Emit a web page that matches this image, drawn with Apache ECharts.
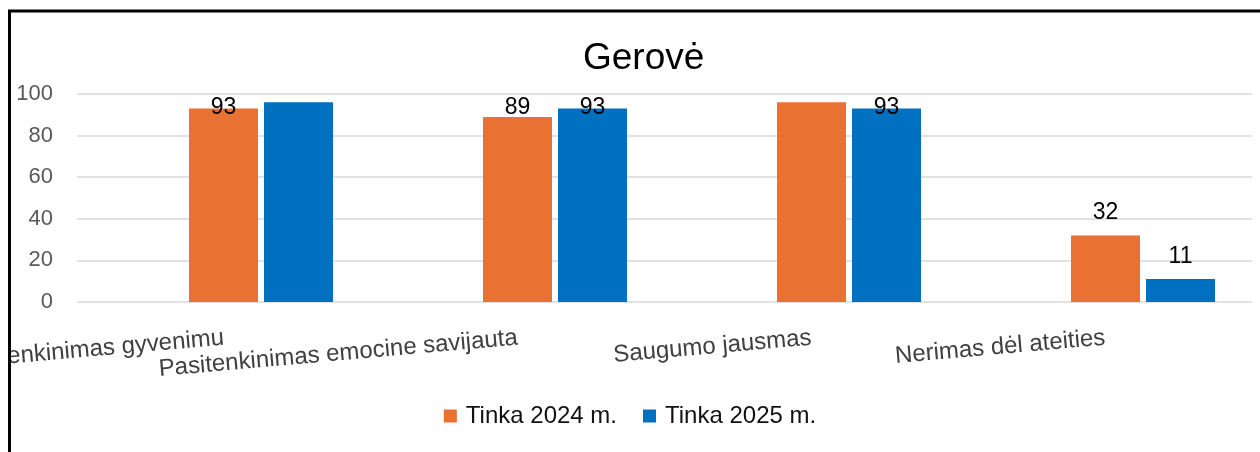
<!DOCTYPE html>
<html>
<head>
<meta charset="utf-8">
<script src="https://cdn.jsdelivr.net/npm/echarts@6/dist/echarts.min.js"></script>
<style>
html,body{margin:0;padding:0;background:#fff;}
#chart{width:1260px;height:452px;}
</style>
</head>
<body>
<div id="chart"></div>
<script>
const categories = ['Pasitenkinimas gyvenimu', 'Pasitenkinimas emocine savijauta', 'Saugumo jausmas', 'Nerimas dėl ateities'];
const seriesNames = ['Tinka 2024 m.', 'Tinka 2025 m.'];
const values2024 = [93, 89, 96, 32];
const values2025 = [96, 93, 93, 11];
const showLabel2024 = [true, true, false, true];
const showLabel2025 = [false, true, true, true];
const yMin = 0, yMax = 100, yStep = 20;

const FONT = '"Liberation Sans", Arial, sans-serif';
const gridTop = 94, gridBottom = 150;

function items(vals, flags) {
  return vals.map((v, i) => ({ value: v, label: { show: flags[i] } }));
}

const chart = echarts.init(document.getElementById('chart'), null, { renderer: 'canvas' });

const barCommon = {
  type: 'bar',
  xAxisIndex: 1,
  yAxisIndex: 1,
  barWidth: 69,
  barGap: '8.7%',
  label: {
    position: 'top',
    distance: 11,
    fontSize: 23,
    fontFamily: FONT,
    color: '#000'
  },
  labelLayout: function (p) {
    const top = Math.max(p.labelRect.y, gridTop + 2);
    return { x: p.labelRect.x + p.labelRect.width / 2, y: top, align: 'center', verticalAlign: 'top' };
  }
};

chart.setOption({
  animation: false,
  backgroundColor: '#fff',
  textStyle: { fontFamily: FONT },
  title: {
    text: 'Gerovė',
    left: 578,
    top: 35,
    textStyle: { fontSize: 37, fontWeight: 'normal', color: '#000', fontFamily: FONT }
  },
  legend: {
    data: seriesNames,
    left: 'center',
    top: 399,
    icon: 'rect',
    itemWidth: 13,
    itemHeight: 13,
    itemGap: 26,
    textStyle: { fontSize: 24, color: '#111', fontFamily: FONT, padding: [0, 0, 0, 4] }
  },
  grid: [
    { left: 77, right: 8, top: gridTop, bottom: gridBottom, containLabel: false, outerBoundsMode: 'none' },
    { left: 114, width: 1176, top: gridTop, bottom: gridBottom, containLabel: false, outerBoundsMode: 'none' }
  ],
  xAxis: [
    {
      type: 'category',
      gridIndex: 0,
      data: categories,
      axisLine: { show: false },
      axisTick: { show: false },
      axisLabel: {
        interval: 0,
        rotate: 5,
        margin: 36,
        fontSize: 24,
        color: '#404040',
        fontFamily: FONT,
        hideOverlap: false
      }
    },
    {
      type: 'category',
      gridIndex: 1,
      data: categories,
      show: false
    }
  ],
  yAxis: [
    {
      type: 'value',
      gridIndex: 0,
      min: yMin, max: yMax, interval: yStep,
      axisLine: { show: false },
      axisTick: { show: false },
      splitLine: { lineStyle: { color: '#d9d9d9', width: 1.5 } },
      axisLabel: { fontSize: 22, color: '#595959', margin: 24, fontFamily: FONT }
    },
    {
      type: 'value',
      gridIndex: 1,
      min: yMin, max: yMax, interval: yStep,
      show: false
    }
  ],
  series: [
    Object.assign({}, barCommon, {
      name: seriesNames[0],
      itemStyle: { color: '#E97132' },
      data: items(values2024, showLabel2024)
    }),
    Object.assign({}, barCommon, {
      name: seriesNames[1],
      itemStyle: { color: '#0070C0' },
      data: items(values2025, showLabel2025)
    })
  ],
  graphic: [
    { type: 'rect', z: 100, shape: { x: 0, y: 0, width: 9, height: 452 }, style: { fill: '#fff' } },
    { type: 'line', z: 101, shape: { x1: 9.5, y1: 11, x2: 9.5, y2: 452 }, style: { stroke: '#000', lineWidth: 3 } },
    { type: 'line', z: 101, shape: { x1: 8, y1: 11, x2: 1260, y2: 11 }, style: { stroke: '#000', lineWidth: 3 } }
  ]
});
</script>
</body>
</html>
